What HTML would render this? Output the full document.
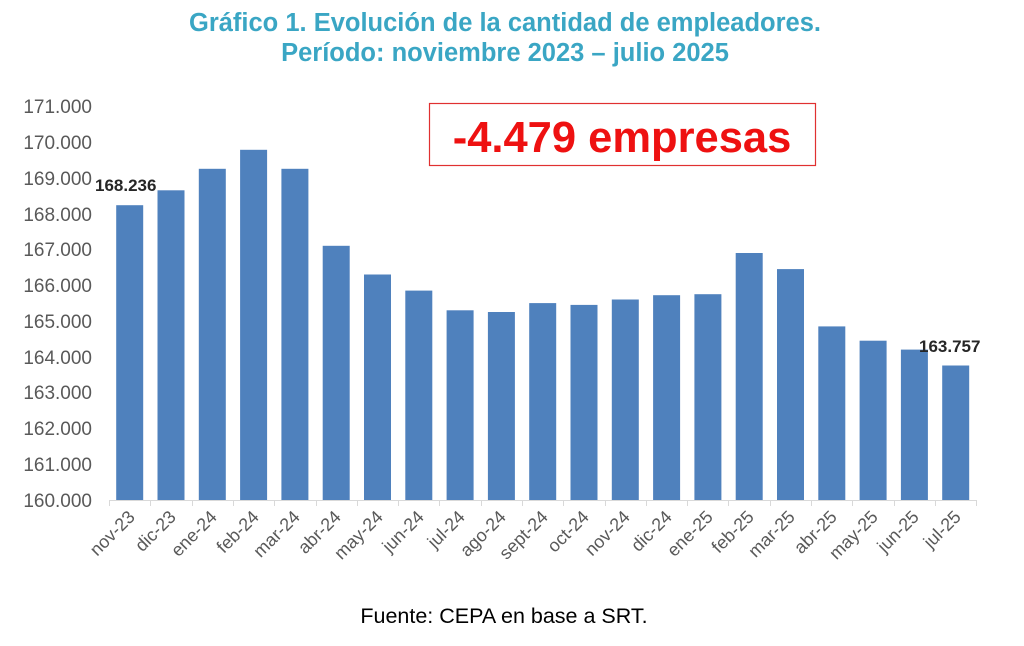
<!DOCTYPE html>
<html><head><meta charset="utf-8"><style>
html,body{margin:0;padding:0;background:#fff;}
svg{display:block;font-family:"Liberation Sans",Arial,sans-serif;}
</style></head><body>
<svg width="1024" height="646" viewBox="0 0 1024 646">
<text x="505" y="31" text-anchor="middle" font-size="25.5" font-weight="bold" fill="#3aa6c4">Gráfico 1. Evolución de la cantidad de empleadores.</text>
<text x="505" y="61" text-anchor="middle" font-size="25.5" font-weight="bold" fill="#3aa6c4">Período: noviembre 2023 – julio 2025</text>
<g font-size="19" fill="#595959" text-anchor="end">
<text x="92" y="113">171.000</text><text x="92" y="149">170.000</text><text x="92" y="185">169.000</text><text x="92" y="221">168.000</text><text x="92" y="256">167.000</text><text x="92" y="292">166.000</text><text x="92" y="328">165.000</text><text x="92" y="364">164.000</text><text x="92" y="399">163.000</text><text x="92" y="435">162.000</text><text x="92" y="471">161.000</text><text x="92" y="507">160.000</text>
</g>
<g fill="#4f81bd">
<rect x="116.2" y="205.2" width="27" height="294.8"/>
<rect x="157.5" y="190.3" width="27" height="309.7"/>
<rect x="198.8" y="168.8" width="27" height="331.2"/>
<rect x="240.1" y="149.8" width="27" height="350.2"/>
<rect x="281.4" y="168.8" width="27" height="331.2"/>
<rect x="322.7" y="245.8" width="27" height="254.2"/>
<rect x="364.0" y="274.5" width="27" height="225.5"/>
<rect x="405.3" y="290.6" width="27" height="209.4"/>
<rect x="446.6" y="310.3" width="27" height="189.7"/>
<rect x="487.9" y="312.0" width="27" height="188.0"/>
<rect x="529.2" y="303.1" width="27" height="196.9"/>
<rect x="570.5" y="304.9" width="27" height="195.1"/>
<rect x="611.8" y="299.5" width="27" height="200.5"/>
<rect x="653.1" y="295.2" width="27" height="204.8"/>
<rect x="694.4" y="294.2" width="27" height="205.8"/>
<rect x="735.7" y="253.0" width="27" height="247.0"/>
<rect x="777.0" y="269.1" width="27" height="230.9"/>
<rect x="818.3" y="326.4" width="27" height="173.6"/>
<rect x="859.6" y="340.7" width="27" height="159.3"/>
<rect x="900.9" y="349.6" width="27" height="150.4"/>
<rect x="942.2" y="365.5" width="27" height="134.5"/>
</g>
<line x1="109" y1="500.5" x2="976" y2="500.5" stroke="#d9d9d9" stroke-width="1"/>
<g stroke="#d9d9d9" stroke-width="1">
<path d="M109.5 500v6M150.5 500v6M192.5 500v6M233.5 500v6M274.5 500v6M316.5 500v6M357.5 500v6M398.5 500v6M439.5 500v6M481.5 500v6M522.5 500v6M563.5 500v6M605.5 500v6M646.5 500v6M687.5 500v6M728.5 500v6M770.5 500v6M811.5 500v6M852.5 500v6M894.5 500v6M935.5 500v6M976.5 500v6"/>
</g>
<text x="95" y="191" font-size="17" font-weight="bold" fill="#262626">168.236</text>
<text x="919" y="352" font-size="17" font-weight="bold" fill="#262626">163.757</text>
<g font-size="18" fill="#595959" text-anchor="end">
<text transform="translate(136,518) rotate(-45)">nov-23</text>
<text transform="translate(177,518) rotate(-45)">dic-23</text>
<text transform="translate(218,518) rotate(-45)">ene-24</text>
<text transform="translate(260,518) rotate(-45)">feb-24</text>
<text transform="translate(301,518) rotate(-45)">mar-24</text>
<text transform="translate(342,518) rotate(-45)">abr-24</text>
<text transform="translate(384,518) rotate(-45)">may-24</text>
<text transform="translate(425,518) rotate(-45)">jun-24</text>
<text transform="translate(466,518) rotate(-45)">jul-24</text>
<text transform="translate(507,518) rotate(-45)">ago-24</text>
<text transform="translate(549,518) rotate(-45)">sept-24</text>
<text transform="translate(590,518) rotate(-45)">oct-24</text>
<text transform="translate(631,518) rotate(-45)">nov-24</text>
<text transform="translate(673,518) rotate(-45)">dic-24</text>
<text transform="translate(714,518) rotate(-45)">ene-25</text>
<text transform="translate(755,518) rotate(-45)">feb-25</text>
<text transform="translate(796,518) rotate(-45)">mar-25</text>
<text transform="translate(838,518) rotate(-45)">abr-25</text>
<text transform="translate(879,518) rotate(-45)">may-25</text>
<text transform="translate(920,518) rotate(-45)">jun-25</text>
<text transform="translate(962,518) rotate(-45)">jul-25</text>
</g>
<rect x="429.5" y="103.5" width="386" height="62" fill="#fff" stroke="#e03030" stroke-width="1.2"/>
<text x="622" y="152" text-anchor="middle" font-size="43.5" font-weight="bold" fill="#ee1111">-4.479 empresas</text>
<text x="504" y="623" text-anchor="middle" font-size="21.5" fill="#000">Fuente: CEPA en base a SRT.</text>
</svg>
</body></html>
